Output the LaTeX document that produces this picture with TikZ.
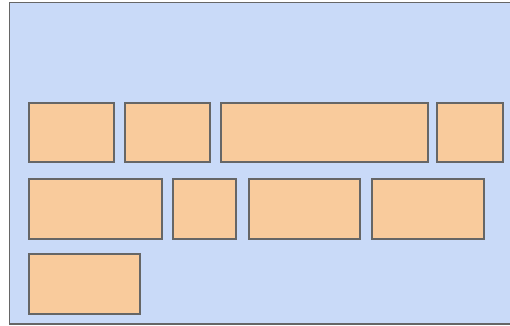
\documentclass[tikz,border=0pt]{standalone}
\usepackage{tikz}
\definecolor{bluefill}{HTML}{C9DAF8}
\definecolor{orangefill}{HTML}{F9CB9C}
\definecolor{edgegray}{HTML}{666666}
\tikzset{
  outerbox/.style={fill=bluefill, draw=edgegray, line width=1.8pt},
  itembox/.style={fill=orangefill, draw=edgegray, line width=2pt, inner sep=0pt, outer sep=0pt}
}
\newcommand{\itm}[5]{\node[itembox, minimum width={(#4-#2)*1pt}, minimum height={(#5-#3)*1pt}] (#1) at ({(#2+#4)/2}, {-(#3+#5)/2}) {};}
\begin{document}
\begin{tikzpicture}[x=1pt,y=1pt]
\useasboundingbox (0,0) rectangle (510,-325);
\path[outerbox] (9.5,-2.5) rectangle (512,-324);
\itm{a1}{29}{102.5}{114}{162.3}
\itm{a2}{124.5}{102.5}{210}{162.3}
\itm{a3}{221}{102.5}{428.3}{162.3}
\itm{a4}{437}{102.5}{503}{162.3}
\itm{b1}{29}{178.5}{161.5}{238.5}
\itm{b2}{172.7}{178.5}{236}{238.5}
\itm{b3}{248.5}{178.5}{360}{238.5}
\itm{b4}{372.3}{178.5}{483.7}{238.5}
\itm{c1}{29}{254}{140.3}{314.3}
\end{tikzpicture}
\end{document}
